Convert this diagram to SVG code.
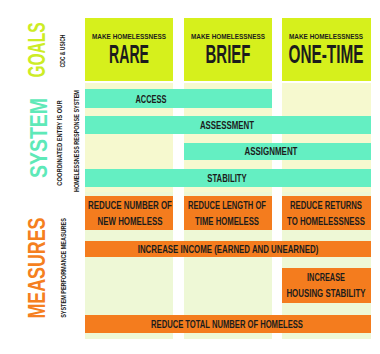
<svg xmlns="http://www.w3.org/2000/svg" width="380" height="354" viewBox="0 0 380 354">
<style>
text{font-family:"Liberation Sans","DejaVu Sans",Arial,sans-serif;font-weight:bold;fill:#1c1c1c;text-anchor:middle}
.goal{fill:#d6f01c}
.bar{fill:#64efc2}
.ora{fill:#f47c1e}
.bgy{fill:#f6f9cf}
.bgg{fill:#eef8d6}
.sm{font-size:7px}
.big{font-size:25px}
.lbl{font-size:10.5px}
.hd{font-size:24px}
</style>
<rect width="380" height="354" fill="#ffffff"/>
<g id="backgrounds">
<rect class="bgy" x="85" y="83" width="88" height="109"/>
<rect class="bgy" x="184" y="83" width="88" height="109"/>
<rect class="bgy" x="282" y="83" width="89" height="109"/>
<rect class="bgg" x="85" y="192" width="88" height="147"/>
<rect class="bgg" x="184" y="192" width="88" height="147"/>
<rect class="bgg" x="282" y="192" width="89" height="147"/>
</g>
<g id="labels">
<text class="hd" transform="translate(45,50) rotate(-90) scale(0.645,1)" style="fill:#cdec25">GOALS</text>
<text class="sm" transform="translate(65,51) rotate(-90) scale(0.72,1)">CDC &amp; USICH</text>
<text class="hd" transform="translate(47,138) rotate(-90) scale(0.81,1)" style="fill:#5ee9b8">SYSTEM</text>
<text class="sm" transform="translate(62,143) rotate(-90) scale(0.83,1)">COORDINATED ENTRY IS OUR</text>
<text class="sm" transform="translate(79,141) rotate(-90) scale(0.786,1)">HOMELESSNESS RESPONSE SYSTEM</text>
<text class="hd" transform="translate(45,268) rotate(-90) scale(0.743,1)" style="fill:#f57f20">MEASURES</text>
<text class="sm" transform="translate(66,268) rotate(-90) scale(0.786,1)">SYSTEM PERFORMANCE MEASURES</text>
</g>
<g id="goal-rare">
<rect class="goal" x="85" y="18" width="88" height="63"/>
<text class="sm" transform="translate(129,39) scale(0.916,1)">MAKE HOMELESSNESS</text>
<text class="big" transform="translate(129,63) scale(0.565,1)">RARE</text>
</g>
<g id="goal-brief">
<rect class="goal" x="184" y="18" width="88" height="63"/>
<text class="sm" transform="translate(228,39) scale(0.916,1)">MAKE HOMELESSNESS</text>
<text class="big" transform="translate(228,63) scale(0.6,1)">BRIEF</text>
</g>
<g id="goal-onetime">
<rect class="goal" x="282" y="18" width="89" height="63"/>
<text class="sm" transform="translate(326,39) scale(0.916,1)">MAKE HOMELESSNESS</text>
<text class="big" transform="translate(326,63) scale(0.614,1)">ONE-TIME</text>
</g>
<g id="access">
<rect class="bar" x="85" y="89" width="187" height="19"/>
<text class="lbl" transform="translate(151,103) scale(0.71,1)">ACCESS</text>
</g>
<g id="assessment">
<rect class="bar" x="85" y="116" width="286" height="18"/>
<text class="lbl" transform="translate(227,129) scale(0.75,1)">ASSESSMENT</text>
</g>
<g id="assignment">
<rect class="bar" x="184" y="143" width="187" height="17"/>
<text class="lbl" transform="translate(271,155) scale(0.757,1)">ASSIGNMENT</text>
</g>
<g id="stability">
<rect class="bar" x="85" y="169" width="286" height="18"/>
<text class="lbl" transform="translate(227,182) scale(0.737,1)">STABILITY</text>
</g>
<g id="reduce-new">
<rect class="ora" x="85" y="196" width="88" height="34"/>
<text class="lbl" transform="translate(130,209) scale(0.758,1)">REDUCE NUMBER OF</text>
<text class="lbl" transform="translate(130,225) scale(0.753,1)">NEW HOMELESS</text>
</g>
<g id="reduce-length">
<rect class="ora" x="184" y="196" width="88" height="34"/>
<text class="lbl" transform="translate(227,209) scale(0.723,1)">REDUCE LENGTH OF</text>
<text class="lbl" transform="translate(227,225) scale(0.736,1)">TIME HOMELESS</text>
</g>
<g id="reduce-returns">
<rect class="ora" x="282" y="196" width="89" height="34"/>
<text class="lbl" transform="translate(326,209) scale(0.735,1)">REDUCE RETURNS</text>
<text class="lbl" transform="translate(326,225) scale(0.744,1)">TO HOMELESSNESS</text>
</g>
<g id="increase-income">
<rect class="ora" x="85" y="241" width="286" height="16"/>
<text class="lbl" transform="translate(228,253) scale(0.75,1)">INCREASE INCOME (EARNED AND UNEARNED)</text>
</g>
<g id="increase-stability">
<rect class="ora" x="282" y="268" width="89" height="35"/>
<text class="lbl" transform="translate(326,281) scale(0.70,1)">INCREASE</text>
<text class="lbl" transform="translate(326,297) scale(0.753,1)">HOUSING STABILITY</text>
</g>
<g id="reduce-total">
<rect class="ora" x="85" y="315" width="286" height="18"/>
<text class="lbl" transform="translate(227,328) scale(0.727,1)">REDUCE TOTAL NUMBER OF HOMELESS</text>
</g>
<g id="connectors"></g>
</svg>
